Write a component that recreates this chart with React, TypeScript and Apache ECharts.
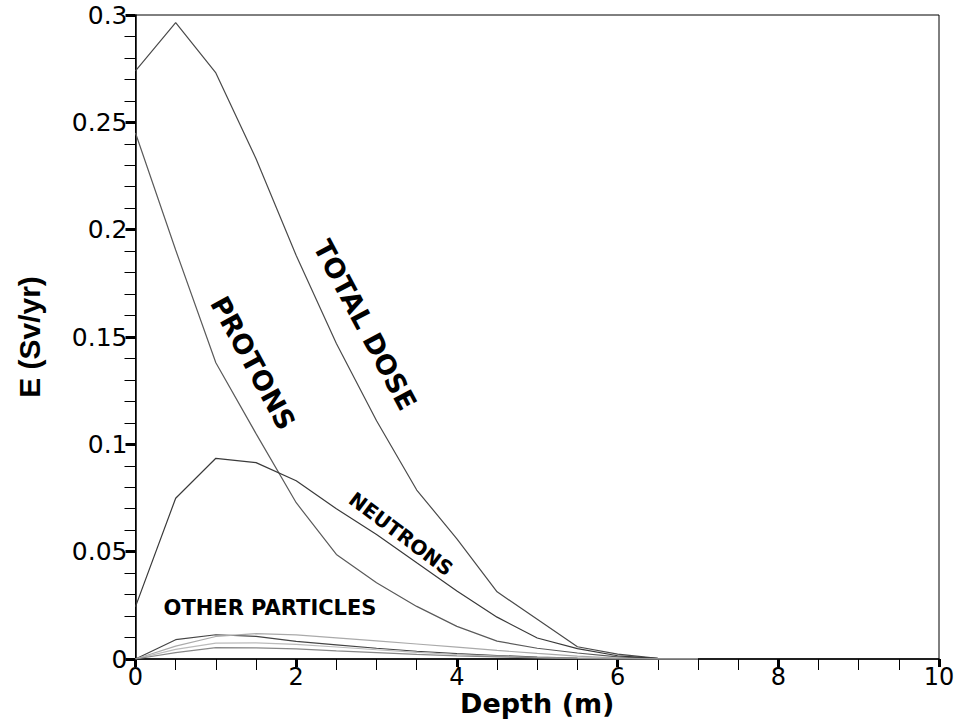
import React, { useEffect, useRef } from "react";
import * as echarts from "echarts";

const depth = [0, 0.5, 1, 1.5, 2, 2.5, 3, 3.5, 4, 4.5, 5, 5.5, 6, 6.5, 7];
const totalDose = [0.274, 0.2964, 0.273, 0.233, 0.188, 0.147, 0.111, 0.0787, 0.056, 0.0313, 0.0185, 0.0057, 0.0023, 0.0003, 0];
const protons = [0.245, 0.1905, 0.138, 0.105, 0.0728, 0.0487, 0.0355, 0.0245, 0.0152, 0.0083, 0.005, 0.0028, 0.001, 0.0002, 0];
const neutrons = [0.0244, 0.0749, 0.0935, 0.0915, 0.083, 0.07, 0.058, 0.0448, 0.0317, 0.0195, 0.0098, 0.0048, 0.0015, 0.0003, 0];
const otherA = [0, 0.009, 0.0113, 0.0105, 0.0082, 0.0066, 0.005, 0.0036, 0.0025, 0.0016, 0.0009, 0.0004, 0.0001, 0, 0];
const otherB = [0, 0.006, 0.0105, 0.0118, 0.0112, 0.0098, 0.0084, 0.007, 0.0055, 0.004, 0.0026, 0.0013, 0.0004, 0, 0];
const otherC = [0, 0.0045, 0.0074, 0.0075, 0.0068, 0.0056, 0.0043, 0.0031, 0.0021, 0.0013, 0.0007, 0.0003, 0.0001, 0, 0];
const otherD = [0, 0.003, 0.0053, 0.0052, 0.0047, 0.0038, 0.003, 0.0022, 0.0015, 0.001, 0.0005, 0.0002, 0, 0, 0];

const seriesDefs = [
  { name: "Total dose", values: totalDose, color: "#4a4a4a" },
  { name: "Protons", values: protons, color: "#5a5a5a" },
  { name: "Neutrons", values: neutrons, color: "#3a3a3a" },
  { name: "Other A", values: otherA, color: "#444444" },
  { name: "Other B", values: otherB, color: "#aaaaaa" },
  { name: "Other C", values: otherC, color: "#bbbbbb" },
  { name: "Other D", values: otherD, color: "#888888" },
];

const deg = (d: number) => (d * Math.PI) / 180;

export default function App() {
  const ref = useRef<HTMLDivElement>(null);
  useEffect(() => {
    document.body.style.margin = "0";
    const chart = echarts.init(ref.current!, null, { renderer: "svg" });
    const labelFont = "bold 27px 'DejaVu Sans'";
    chart.setOption({
      animation: false,
      backgroundColor: "#ffffff",
      grid: {
        left: 135.5,
        right: 19,
        top: 15,
        bottom: 62,
        show: true,
        borderColor: "#000",
        borderWidth: 1,
        containLabel: false,
        outerBoundsMode: "none",
      },
      xAxis: {
        type: "value",
        min: 0,
        max: 10,
        interval: 2,
        name: "Depth (m)",
        nameLocation: "middle",
        nameGap: 29,
        nameMoveOverlap: false,
        nameTextStyle: { fontFamily: "DejaVu Sans", fontWeight: "bold", fontSize: 27, color: "#000", lineHeight: 30 },
        axisLine: { lineStyle: { color: "#000", width: 1.5 } },
        axisTick: { show: true, length: 8, lineStyle: { color: "#000", width: 3 } },
        minorTick: { show: true, splitNumber: 4, length: 11, lineStyle: { color: "#000", width: 1 } },
        axisLabel: { fontFamily: "DejaVu Sans", fontSize: 24, color: "#000", margin: 6 },
        splitLine: { show: false },
      },
      yAxis: {
        type: "value",
        min: 0,
        max: 0.3,
        interval: 0.05,
        name: "E (Sv/yr)",
        nameLocation: "middle",
        nameGap: 91,
        nameMoveOverlap: false,
        nameTextStyle: { fontFamily: "Liberation Sans", fontWeight: "bold", fontSize: 30, color: "#000" },
        axisLine: { lineStyle: { color: "#000", width: 1.5 } },
        axisTick: { show: true, length: 10, lineStyle: { color: "#000", width: 3 } },
        minorTick: { show: true, splitNumber: 5, length: 11, lineStyle: { color: "#000", width: 1 } },
        axisLabel: { fontFamily: "DejaVu Sans", fontSize: 25, color: "#000", margin: 8 },
        splitLine: { show: false },
      },
      series: seriesDefs.map((s) => ({
        name: s.name,
        type: "line",
        data: depth.map((d, i) => [d, s.values[i]]),
        showSymbol: false,
        symbol: "none",
        lineStyle: { color: s.color, width: 1.2 },
        z: 2,
      })),
      graphic: [
        {
          type: "text",
          x: 365,
          y: 325,
          rotation: deg(-62),
          style: { text: "TOTAL DOSE", font: labelFont, fill: "#000", align: "center", verticalAlign: "middle" },
        },
        {
          type: "text",
          x: 253,
          y: 363,
          rotation: deg(-61.5),
          style: { text: "PROTONS", font: labelFont, fill: "#000", align: "center", verticalAlign: "middle" },
        },
        {
          type: "text",
          x: 401,
          y: 534,
          rotation: deg(-37),
          style: { text: "NEUTRONS", font: "bold 20px 'DejaVu Sans'", fill: "#000", align: "center", verticalAlign: "middle" },
        },
        {
          type: "text",
          x: 270,
          y: 608,
          style: { text: "OTHER PARTICLES", font: "bold 21px 'DejaVu Sans'", fill: "#000", align: "center", verticalAlign: "middle" },
        },
      ],
    });
    return () => chart.dispose();
  }, []);
  return <div ref={ref} style={{ position: "absolute", left: 0, top: 0, width: 958, height: 721 }} />;
}
